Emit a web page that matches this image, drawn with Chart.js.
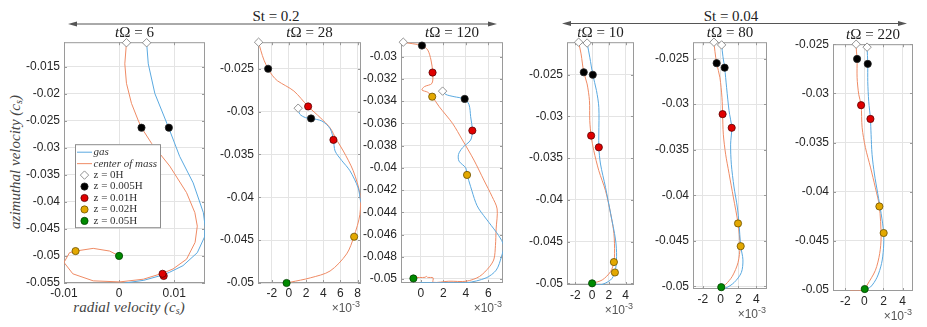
<!DOCTYPE html>
<html>
<head>
<meta charset="utf-8">
<script src="https://cdn.jsdelivr.net/npm/chart.js@4.4.0/dist/chart.umd.min.js"></script>
<style>
  body { margin: 0; width: 927px; height: 327px; background: #fff; position: relative; overflow: hidden; }
  canvas { position: absolute; }
  .serif { position: absolute; font-family: "Liberation Serif", "Times New Roman", serif; color: #222; white-space: nowrap; }
  .ttl { font-size: 15px; line-height: 16px; text-align: center; width: 110px; }
  .lab { font-size: 15px; line-height: 18px; font-style: italic; text-align: center; width: 200px; color: #444; }
  .lab sub { font-size: 10px; vertical-align: -2px; line-height: 0; }
  .exp { position: absolute; font-family: "Liberation Sans", Arial, sans-serif; font-size: 12px; line-height: 14px; color: #555; white-space: nowrap; text-align: right; width: 60px; }
  .exp sup { font-size: 9px; vertical-align: 5px; line-height: 0; }
</style>
</head>
<body>

<svg width="927" height="40" style="position:absolute;left:0;top:0">
  <g stroke="#555" stroke-width="1" fill="#555">
    <line x1="72" y1="24" x2="493" y2="24"/>
    <polygon points="68,24 77,21.6 77,26.4" stroke="none"/>
    <polygon points="497,24 488,21.6 488,26.4" stroke="none"/>
    <line x1="566" y1="23.5" x2="903" y2="23.5"/>
    <polygon points="562,23.5 571,21.1 571,25.9" stroke="none"/>
    <polygon points="907,23.5 898,21.1 898,25.9" stroke="none"/>
  </g>
</svg>
<div class="serif ttl" style="left:221px;top:8px">St = 0.2</div>
<div class="serif ttl" style="left:676px;top:8px">St = 0.04</div>
<div class="serif lab" style="left:29px;top:298px">radial velocity (c<sub>s</sub>)</div>
<div class="serif lab" style="left:-85px;top:153px;transform:rotate(-90deg)">azimuthal velocity (c<sub>s</sub>)</div>

<script>
// ---- textos ----
const titleTimes = ['6', '28', '120', '10', '80', '220'];
const curveLabels = ['gas', 'center of mass'];
const zLevels = ['z = 0H', 'z = 0.005H', 'z = 0.01H', 'z = 0.02H', 'z = 0.05H'];

// ---- panel 1: St = 0.2, tΩ = 6 (x en c_s) ----
const p1XRange = [-0.01, 0.0156];
const p1YRange = [-0.055, -0.0105];
const p1XTicks = [-0.01, 0, 0.01];
const p1YTicks = [-0.055, -0.05, -0.045, -0.04, -0.035, -0.03, -0.025, -0.02, -0.015];
const p1Gas = [[0.005, -0.0106], [0.0053, -0.0145], [0.0065, -0.02], [0.009, -0.0263], [0.011, -0.0316],
  [0.01345, -0.0365], [0.0153, -0.042], [0.0157, -0.0451], [0.0156, -0.0463], [0.0142, -0.0494],
  [0.0116, -0.0518], [0.0092, -0.053], [0.008, -0.0535], [0.0045, -0.0545], [0.001, -0.055]];
const p1Com = [[0.00134, -0.0106], [0.00104, -0.0145], [0.00134, -0.0181], [0.00225, -0.0218], [0.00345, -0.0249],
  [0.00407, -0.0263], [0.0059, -0.0292], [0.0092, -0.0334], [0.01225, -0.0383], [0.01376, -0.042],
  [0.0142, -0.0445], [0.0138, -0.0475], [0.01225, -0.0506], [0.0098, -0.0524], [0.0079, -0.0532],
  [0.0044, -0.0543], [0.0001, -0.0548], [-0.0047, -0.0546], [-0.0084, -0.0533], [-0.01, -0.0512],
  [-0.009, -0.0494], [-0.0079, -0.0491], [-0.0047, -0.0486], [-0.0017, -0.0491], [0, -0.05]];
const p1GasDots = [[0.005, -0.0106], [0.00904, -0.0263], [0.0081, -0.0537], null, null];
const p1ComDots = [[0.00134, -0.0106], [0.00407, -0.0263], [0.0079, -0.0533], [-0.0079, -0.0491], [0, -0.05]];

// ---- panel 2: tΩ = 28 (x en 1e-3 c_s) ----
const p2XRange = [-3.6, 8.4];
const p2YRange = [-0.05, -0.0219];
const p2XTicks = [-2, 0, 2, 4, 6, 8];
const p2YTicks = [-0.05, -0.045, -0.04, -0.035, -0.03, -0.025];
const p2Gas = [[1.08, -0.0296], [1.27, -0.0303], [1.93, -0.0307], [2.58, -0.0308], [3.85, -0.0311],
  [4.81, -0.032], [5.19, -0.0333], [5.38, -0.0346], [6.15, -0.0357], [7.11, -0.0369],
  [8.07, -0.0389], [8.35, -0.0404], [8.7, -0.0415], [9.2, -0.043]];
const p2Com = [[-3.53, -0.0219], [-3.26, -0.0229], [-2.9, -0.024], [-2.42, -0.025], [-1.91, -0.0258],
  [-1.34, -0.0264], [0.58, -0.0276], [2.24, -0.0294], [3.65, -0.0307], [4.8, -0.0319],
  [5.5, -0.0332], [6.34, -0.0346], [7.49, -0.0369], [8.27, -0.0396], [8.27, -0.042],
  [7.57, -0.0446], [6.73, -0.0466], [4.8, -0.0486], [2.5, -0.0494], [0.2, -0.0499], [-0.27, -0.05]];
const p2GasDots = [[1.08, -0.0296], [2.58, -0.0308], [5.19, -0.0333], null, null];
const p2ComDots = [[-3.53, -0.0219], [-2.42, -0.025], [2.24, -0.0294], [7.6, -0.0446], [-0.27, -0.05]];

// ---- panel 3: tΩ = 120 ----
const p3XRange = [-1.75, 7.3];
const p3YRange = [-0.05036, -0.0287];
const p3XTicks = [0, 2, 4, 6];
const p3YTicks = [-0.05, -0.048, -0.046, -0.044, -0.042, -0.04, -0.038, -0.036, -0.034, -0.032, -0.03];
const p3Gas = [[1.94, -0.0331], [2.23, -0.0334], [2.96, -0.0336], [3.84, -0.0338], [4.28, -0.0343],
  [4.43, -0.0354], [4.58, -0.03665], [4.43, -0.0375], [3.7, -0.0382], [3.35, -0.0388],
  [3.4, -0.0394], [3.99, -0.04], [4.11, -0.0406], [4.43, -0.0417], [4.87, -0.0431],
  [5.16, -0.0437], [6.04, -0.0449], [6.92, -0.0461], [7.36, -0.047], [7.16, -0.048],
  [6.7, -0.0492], [5.8, -0.0499], [4.05, -0.05034], [2.0, -0.05034], [-0.06, -0.05034]];
const p3Com = [[-1.59, -0.0287], [-0.7, -0.02884], [0.11, -0.029], [0.62, -0.0294], [0.91, -0.0303],
  [1.06, -0.0314], [1.0, -0.0324], [0.32, -0.0327], [0.11, -0.033], [0.62, -0.0332],
  [1.02, -0.0336], [1.64, -0.0345], [2.82, -0.036], [3.7, -0.0375], [4.72, -0.0393],
  [5.6, -0.0411], [6.34, -0.0426], [6.78, -0.0437], [6.69, -0.0455], [6.63, -0.047],
  [6.5, -0.0482], [6.1, -0.0489], [5.22, -0.04977], [4.05, -0.0502], [2.5, -0.0502],
  [1.1, -0.0503], [1.1, -0.0499], [0.6, -0.04985], [0.5, -0.04975], [0.4, -0.04985], [-0.65, -0.04986]];
const p3GasDots = [[1.94, -0.0331], [3.9, -0.0338], [4.58, -0.03665], [4.11, -0.04064], null];
const p3ComDots = [[-1.55, -0.0287], [0.11, -0.029], [1.05, -0.03143], [1.02, -0.0336], [-0.65, -0.04995]];

// ---- panel 4: St = 0.04, tΩ = 10 ----
const p4XRange = [-3, 5];
const p4YRange = [-0.0502, -0.0211];
const p4XTicks = [-2, 0, 2, 4];
const p4YTicks = [-0.05, -0.045, -0.04, -0.035, -0.03, -0.025];
const p4Gas = [[-0.6, -0.0212], [-0.28, -0.0229], [0.08, -0.025], [0.52, -0.0269], [0.8, -0.0289],
  [0.8, -0.0321], [0.8, -0.0337], [1.0, -0.0357], [1.6, -0.0385], [2.2, -0.0416],
  [2.8, -0.0448], [2.92, -0.0468], [2.72, -0.0487], [2.2, -0.0496], [1.0, -0.0502], [0.3, -0.0502]];
const p4Com = [[-1.61, -0.0211], [-1.32, -0.0225], [-1.0, -0.0247], [-0.6, -0.0261], [-0.32, -0.0281],
  [-0.28, -0.0305], [-0.12, -0.0323], [0.2, -0.0341], [0.8, -0.0365], [1.6, -0.0389],
  [2.2, -0.0416], [2.6, -0.044], [2.68, -0.0464], [2.6, -0.04745], [2.2, -0.0486], [1.2, -0.0496], [0, -0.05]];
const p4GasDots = [[-0.6, -0.0212], [0.08, -0.025], [0.8, -0.0337], [2.72, -0.0487], null];
const p4ComDots = [[-1.61, -0.0211], [-1.0, -0.0247], [-0.12, -0.0323], [2.6, -0.04745], [0, -0.05]];

// ---- panel 5: tΩ = 80 ----
const p5XRange = [-3.1, 5.2];
const p5YRange = [-0.0503, -0.0232];
const p5XTicks = [-2, 0, 2, 4];
const p5YTicks = [-0.05, -0.045, -0.04, -0.035, -0.03, -0.025];
const p5Gas = [[0.11, -0.0235], [0.26, -0.0248], [0.45, -0.026], [0.67, -0.0282], [0.94, -0.0307],
  [1.24, -0.0326], [1.12, -0.0344], [1.2, -0.0366], [1.5, -0.0391], [1.87, -0.0413],
  [2.06, -0.0431], [2.25, -0.0456], [2.5, -0.0471], [2.32, -0.0485], [1.5, -0.0496], [0.56, -0.0502], [0.07, -0.0502]];
const p5Com = [[-0.75, -0.0232], [-0.64, -0.0242], [-0.45, -0.0255], [-0.08, -0.0271], [0.15, -0.0293],
  [0.22, -0.0311], [0.3, -0.0333], [0.56, -0.0355], [0.94, -0.0376], [1.42, -0.0402],
  [1.95, -0.0431], [2.17, -0.0456], [1.95, -0.0474], [1.31, -0.0489], [0.56, -0.0498], [0.07, -0.0501]];
const p5GasDots = [[0.11, -0.0235], [0.45, -0.026], [1.24, -0.0326], [2.25, -0.0456], null];
const p5ComDots = [[-0.75, -0.0232], [-0.45, -0.0255], [0.22, -0.0311], [1.95, -0.0431], [0.07, -0.0501]];

// ---- panel 6: tΩ = 220 ----
const p6XRange = [-3.3, 5.1];
const p6YRange = [-0.0501, -0.025];
const p6XTicks = [-2, 0, 2, 4];
const p6YTicks = [-0.05, -0.045, -0.04, -0.035, -0.03, -0.025];
const p6Gas = [[0.28, -0.0253], [0.35, -0.027], [0.35, -0.0288], [0.45, -0.0308], [0.63, -0.0326],
  [0.7, -0.0342], [0.8, -0.0362], [1.05, -0.0382], [1.4, -0.0402], [1.75, -0.0422],
  [2.02, -0.0442], [2.0, -0.0458], [1.8, -0.0473], [1.33, -0.0487], [0.63, -0.0497], [0.03, -0.0499]];
const p6Com = [[-0.87, -0.025], [-0.84, -0.0257], [-0.77, -0.0265], [-0.77, -0.0284], [-0.6, -0.0301],
  [-0.35, -0.0312], [-0.24, -0.0335], [0.1, -0.0355], [0.63, -0.0375], [1.15, -0.0396],
  [1.57, -0.0415], [1.75, -0.0446], [1.6, -0.0463], [1.15, -0.048], [0.28, -0.0495],
  [0.03, -0.0499], [-0.6, -0.0501], [-1.5, -0.0501]];
const p6GasDots = [[0.28, -0.0253], [0.35, -0.027], [0.63, -0.0326], [2.02, -0.0442], null];
const p6ComDots = [[-0.87, -0.025], [-0.77, -0.0265], [-0.35, -0.0312], [1.57, -0.0415], [0.03, -0.0499]];

// ---- estilo y maquetación ----
const BLUE = '#5aa9e0', ORANGE = '#ef8b65';
const TICK_FONT = { family: '"Liberation Sans", Arial, sans-serif', size: 12 };
const markStyles = [
  { pointStyle: 'rectRot', radius: 4.2, fill: '#ffffff', edge: '#777777' },
  { pointStyle: 'circle', radius: 3.6, fill: '#000000', edge: '#222222' },
  { pointStyle: 'circle', radius: 3.6, fill: '#e00000', edge: '#5a0000' },
  { pointStyle: 'circle', radius: 3.6, fill: '#e3a800', edge: '#6b5000' },
  { pointStyle: 'circle', radius: 3.6, fill: '#008a00', edge: '#004000' }
];
const YW = 50, PADT = 10, PADR = 10, XH = 24;

const panels = [
  { gas: p1Gas, com: p1Com, gd: p1GasDots, cd: p1ComDots, xr: p1XRange, yr: p1YRange, xt: p1XTicks, yt: p1YTicks, box: [64, 41, 205, 283], milli: false, tension: 0 },
  { gas: p2Gas, com: p2Com, gd: p2GasDots, cd: p2ComDots, xr: p2XRange, yr: p2YRange, xt: p2XTicks, yt: p2YTicks, box: [258, 41, 361, 283], milli: true, tension: 0.3 },
  { gas: p3Gas, com: p3Com, gd: p3GasDots, cd: p3ComDots, xr: p3XRange, yr: p3YRange, xt: p3XTicks, yt: p3YTicks, box: [401, 41, 503, 283], milli: true, tension: 0.3 },
  { gas: p4Gas, com: p4Com, gd: p4GasDots, cd: p4ComDots, xr: p4XRange, yr: p4YRange, xt: p4XTicks, yt: p4YTicks, box: [567, 41, 634, 285], milli: true, tension: 0.3 },
  { gas: p5Gas, com: p5Com, gd: p5GasDots, cd: p5ComDots, xr: p5XRange, yr: p5YRange, xt: p5XTicks, yt: p5YTicks, box: [693, 41, 767, 289], milli: true, tension: 0.3 },
  { gas: p6Gas, com: p6Com, gd: p6GasDots, cd: p6ComDots, xr: p6XRange, yr: p6YRange, xt: p6XTicks, yt: p6YTicks, box: [833, 43, 913, 291], milli: true, tension: 0.3 }
];

const toXY = ([x, y]) => ({ x, y });

// caja tipo MATLAB con marcas hacia dentro
const boxPlugin = {
  id: 'matlabBox',
  beforeDatasetsDraw(chart) {
    const { ctx, chartArea: a, scales: { x, y } } = chart;
    ctx.save();
    ctx.strokeStyle = '#9a9a9a';
    ctx.lineWidth = 1;
    ctx.strokeRect(a.left + 0.5, a.top + 0.5, a.width - 1, a.height - 1);
    ctx.beginPath();
    x.ticks.forEach(t => {
      const px = Math.round(x.getPixelForValue(t.value)) + 0.5;
      ctx.moveTo(px, a.bottom); ctx.lineTo(px, a.bottom - 3);
      ctx.moveTo(px, a.top); ctx.lineTo(px, a.top + 3);
    });
    y.ticks.forEach(t => {
      const py = Math.round(y.getPixelForValue(t.value)) + 0.5;
      ctx.moveTo(a.left, py); ctx.lineTo(a.left + 3, py);
      ctx.moveTo(a.right, py); ctx.lineTo(a.right - 3, py);
    });
    ctx.stroke();
    ctx.restore();
  }
};

// leyenda dentro del primer panel
const legendPlugin = {
  id: 'zLegend',
  afterDatasetsDraw(chart) {
    const { ctx, chartArea: a } = chart;
    const x0 = a.left + 11, y0 = a.top + 102, w = 85, h = 83;
    ctx.save();
    ctx.fillStyle = '#fff';
    ctx.fillRect(x0, y0, w, h);
    ctx.strokeStyle = '#8c8c8c';
    ctx.lineWidth = 1;
    ctx.strokeRect(x0 + 0.5, y0 + 0.5, w, h);
    ctx.textBaseline = 'middle';
    const rowY = k => y0 + 8 + k * 11.45;
    [BLUE, ORANGE].forEach((c, k) => {
      ctx.strokeStyle = c;
      ctx.beginPath();
      ctx.moveTo(x0 + 2, rowY(k)); ctx.lineTo(x0 + 17, rowY(k));
      ctx.stroke();
      ctx.fillStyle = '#333';
      ctx.font = 'italic 11px "Liberation Serif", serif';
      ctx.fillText(curveLabels[k], x0 + 18.5, rowY(k));
    });
    markStyles.forEach((m, k) => {
      const yy = rowY(k + 2);
      ctx.fillStyle = m.fill;
      ctx.strokeStyle = m.edge;
      ctx.lineWidth = 0.8;
      Chart.helpers.drawPoint(ctx, { pointStyle: m.pointStyle, radius: m.radius, rotation: 0, borderWidth: 0.8 }, x0 + 9.5, yy);
      ctx.fillStyle = '#333';
      ctx.font = '11px "Liberation Serif", serif';
      ctx.fillText(zLevels[k], x0 + 18.5, yy);
    });
    ctx.restore();
  }
};

panels.forEach((p, i) => {
  const [L, T, R, B] = p.box;
  const cv = document.createElement('canvas');
  cv.width = R - L + YW + PADR;
  cv.height = B - T + PADT + XH;
  cv.style.left = (L - YW) + 'px';
  cv.style.top = (T - PADT) + 'px';
  document.body.appendChild(cv);

  const title = document.createElement('div');
  title.className = 'serif ttl';
  title.style.left = ((L + R) / 2 - 55) + 'px';
  title.style.top = (T - 17) + 'px';
  title.innerHTML = '<i>t</i>Ω = ' + titleTimes[i];
  document.body.appendChild(title);

  if (p.milli) {
    const ex = document.createElement('div');
    ex.className = 'exp';
    ex.style.left = (R - 61) + 'px';
    ex.style.top = (B + 18) + 'px';
    ex.innerHTML = '×10<sup>-3</sup>';
    document.body.appendChild(ex);
  }

  const line = (pts, color) => ({
    data: pts.map(toXY), showLine: true, borderColor: color, borderWidth: 1,
    pointRadius: 0, tension: p.tension, order: 2
  });
  const datasets = [line(p.gas, BLUE), line(p.com, ORANGE)].concat(
    markStyles.map((m, k) => ({
      label: zLevels[k],
      data: [p.gd[k], p.cd[k]].filter(Boolean).map(toXY),
      showLine: false, pointStyle: m.pointStyle, pointRadius: m.radius,
      pointBackgroundColor: m.fill, pointBorderColor: m.edge, pointBorderWidth: 0.8,
      clip: false, order: 1
    }))
  );

  new Chart(cv, {
    type: 'scatter',
    data: { datasets },
    options: {
      responsive: false,
      animation: false,
      events: [],
      layout: { padding: { left: 0, top: PADT, right: PADR, bottom: 0 } },
      plugins: { legend: { display: false }, tooltip: { enabled: false } },
      scales: {
        x: {
          type: 'linear', min: p.xr[0], max: p.xr[1],
          afterFit: s => { s.height = XH; },
          afterBuildTicks: s => { s.ticks = p.xt.map(v => ({ value: v })); },
          grid: { color: '#e4e4e4', drawTicks: false },
          border: { display: false },
          ticks: { autoSkip: false, maxRotation: 0, padding: 3, font: TICK_FONT, color: '#262626', callback: v => String(v) }
        },
        y: {
          type: 'linear', min: p.yr[0], max: p.yr[1],
          afterFit: s => { s.width = YW; },
          afterBuildTicks: s => { s.ticks = p.yt.map(v => ({ value: v })); },
          grid: { color: '#e4e4e4', drawTicks: false },
          border: { display: false },
          ticks: { autoSkip: false, padding: 4, font: TICK_FONT, color: '#262626', callback: v => String(+v.toFixed(4)) }
        }
      }
    },
    plugins: i === 0 ? [boxPlugin, legendPlugin] : [boxPlugin]
  });
});
</script>
</body>
</html>
